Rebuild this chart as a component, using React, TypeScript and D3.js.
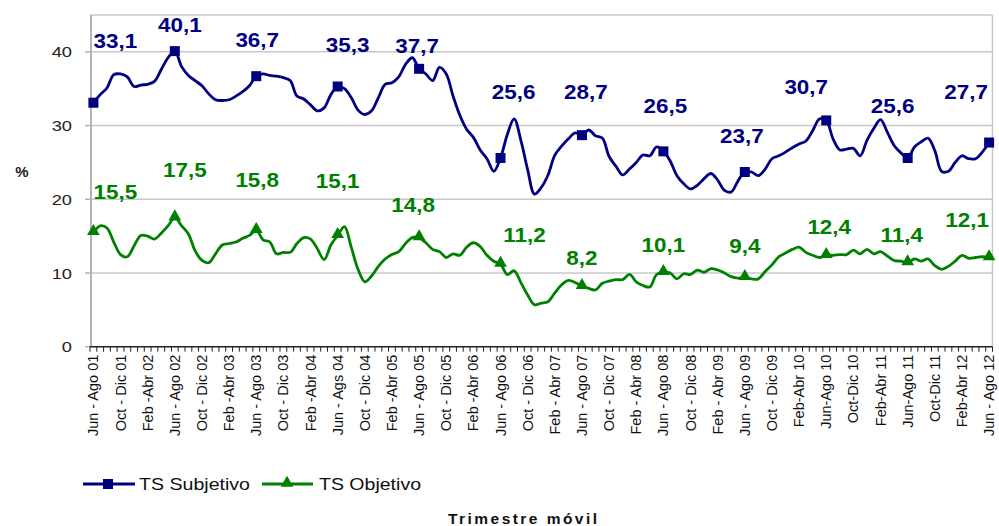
import React from 'react';
import * as d3 from 'd3';

const tickLabels = [
  'Jun - Ago 01', 'Oct - Dic 01', 'Feb -Abr 02', 'Jun - Ago 02', 'Oct - Dic 02', 'Feb -Abr 03',
  'Jun - Ago 03', 'Oct - Dic 03', 'Feb -Abr 04', 'Jun - Ags 04', 'Oct - Dic 04', 'Feb -Abr 05',
  'Jun - Ago 05', 'Oct - Dic 05', 'Feb -Abr 06', 'Jun - Ago 06', 'Oct - Dic 06', 'Feb - Abr 07',
  'Jun - Ago 07', 'Oct - Dic 07', 'Feb - Abr 08', 'Jun - Ago 08', 'Oct - Dic 08', 'Feb - Abr 09',
  'Jun - Ago 09', 'Oct - Dic 09', 'Feb-Abr 10', 'Jun-Ago 10', 'Oct-Dic 10', 'Feb-Abr 11',
  'Jun-Ago 11', 'Oct-Dic 11', 'Feb-Abr 12', 'Jun - Ago 12',
];

const subjetivo = [
  33.1, 34.2, 35.1, 36.9, 37.0, 36.6, 35.3, 35.5, 35.6, 36.0, 37.6, 39.2,
  40.1, 38.0, 36.8, 36.1, 35.4, 34.3, 33.5, 33.4, 33.5, 34.0, 34.6, 35.4,
  36.7, 37.0, 36.8, 36.7, 36.5, 36.1, 34.0, 33.6, 32.8, 32.0, 32.4, 34.2,
  35.3, 35.0, 33.8, 32.1, 31.5, 32.0, 33.8, 35.6, 35.8, 36.6, 38.3, 39.2,
  37.7, 37.0, 36.1, 37.9, 37.0, 34.0, 31.4, 29.5, 28.4, 26.7, 25.5, 23.8,
  25.6, 28.8, 30.9, 28.0, 24.0, 20.7, 21.6, 23.3, 26.0, 27.2, 28.2, 29.0,
  28.7, 29.4, 28.6, 28.3, 25.8, 24.5, 23.3, 24.1, 25.0, 26.0, 25.9, 27.1,
  26.5, 25.2, 23.2, 22.1, 21.4, 21.9, 22.8, 23.5, 22.6, 21.2, 21.0, 22.5,
  23.7, 23.7, 23.2, 24.1, 25.5, 25.9, 26.4, 27.0, 27.5, 27.9, 29.3, 30.9,
  30.7, 28.2, 26.7, 26.8, 26.9, 25.9, 28.0, 29.6, 30.8, 29.1, 27.3, 26.3,
  25.6, 27.1, 27.8, 28.3, 26.6, 23.8, 23.8, 25.0, 25.9, 25.5, 25.5, 26.4,
  27.7,
];

const objetivo = [
  15.5, 16.4, 16.1, 14.2, 12.5, 12.2, 13.7, 15.1, 15.0, 14.6, 15.4, 16.4,
  17.5, 16.4, 15.3, 13.0, 11.7, 11.4, 12.6, 13.8, 14.0, 14.2, 14.7, 15.1,
  15.8, 14.5, 14.2, 12.6, 12.8, 12.8, 14.0, 14.8, 14.6, 13.3, 11.8, 13.8,
  15.1, 16.3, 13.5, 10.5, 8.8, 9.6, 10.9, 11.9, 12.5, 12.9, 14.0, 14.8,
  14.8, 14.1, 13.2, 12.9, 12.1, 12.6, 12.4, 13.5, 14.1, 13.6, 12.4, 11.6,
  11.2, 9.8, 10.3, 8.7, 7.0, 5.7, 5.9, 6.1, 7.3, 8.4, 9.0, 8.7,
  8.2, 7.9, 7.7, 8.6, 8.9, 9.1, 9.1, 9.8, 8.8, 8.3, 8.1, 9.8,
  10.1, 10.0, 9.2, 9.9, 9.8, 10.4, 10.1, 10.6, 10.4, 10.0, 9.5, 9.3,
  9.4, 9.2, 9.2, 10.2, 11.1, 12.2, 12.7, 13.2, 13.5, 12.8, 12.4, 12.1,
  12.4, 12.4, 12.5, 12.5, 13.1, 12.6, 13.2, 12.6, 12.9, 12.3, 11.7, 11.6,
  11.4, 11.9, 11.6, 11.9, 11.0, 10.5, 10.9, 11.6, 12.4, 12.0, 12.1, 12.2,
  12.1,
];

const yTicks = [0, 10, 20, 30, 40];
const seriesNames = ['TS Subjetivo', 'TS Objetivo'];
const axisTitle = 'Trimestre móvil';
const yTitle = '%';

// label offsets (dx, dy) relative to the marker, for the yearly labelled points
const subjLabelOffsets: [number, number][] = [
  [22, -55], [5, -19], [1, -29], [10, -34], [-2, -16], [13, -59],
  [4, -36], [2, -38], [-3, -29], [-20, -26], [-15, -45], [-23, -44],
];
const objLabelOffsets: [number, number][] = [
  [22, -33], [10, -41], [1, -43], [0, -47], [-6, -26], [24, -22],
  [0, -21], [0, -20], [0, -24], [3, -21], [-6, -21], [-22, -31],
];

const BLUE = '#000080';
const GREEN = '#008000';
const FONT = '"Liberation Sans", Arial, Helvetica, sans-serif';

export default function App() {
  const W = 999, H = 526;
  const L = 90, R = 992.5, T = 15, B = 346.7;
  const n = subjetivo.length;
  const idx = d3.range(n);
  const x = d3.scalePoint<number>().domain(idx).range([L, R]).padding(0.5);
  const step = x.step();
  const y = d3.scaleLinear().domain([0, 45]).range([B, T]);

  const line = d3.line<number>()
    .x((_, i) => x(i) as number)
    .y((d) => y(d))
    .curve(d3.curveCatmullRom.alpha(0.5));

  const labelled = idx.filter((i) => i % 12 === 0);
  const tickIdx = idx.filter((i) => i % 4 === 0);
  const fmt = (v: number) => v.toFixed(1).replace('.', ',');
  const tri = d3.symbol().type(d3.symbolTriangle).size(70)();

  return (
    <svg width={W} height={H} style={{ position: 'absolute', left: 0, top: 0, display: 'block', background: '#fff' }} fontFamily={FONT}>
      {/* gridlines */}
      {[10, 20, 30, 40, 45].map((t) => (
        <line key={t} x1={L} x2={R} y1={y(t)} y2={y(t)} stroke="#c8c8c8" strokeWidth={1.5} />
      ))}
      <line x1={R} x2={R} y1={T} y2={B} stroke="#c8c8c8" strokeWidth={1.5} />
      {/* y axis */}
      <line x1={L + 1} x2={L + 1} y1={T} y2={B} stroke="#b4b4b4" strokeWidth={2} />
      {yTicks.map((t) => (
        <g key={t}>
          <line x1={L - 5} x2={L} y1={y(t)} y2={y(t)} stroke="#b4b4b4" strokeWidth={1.5} />
          <text x={72} y={y(t)} dy="0.36em" textAnchor="end" fontSize={15.5} fill="#222"
            transform={`translate(72,0) scale(1.18,1) translate(-72,0)`}>{t}</text>
        </g>
      ))}
      <text x={22} y={172} dy="0.36em" textAnchor="middle" fontSize={15} fontWeight="bold" fill="#222">{yTitle}</text>

      {/* x axis */}
      <line x1={L} x2={R} y1={B} y2={B} stroke="#222" strokeWidth={1.5} />
      {d3.range(n + 1).map((i) => {
        const xx = L + i * step;
        return <line key={i} x1={xx} x2={xx} y1={B} y2={B + 5} stroke="#222" strokeWidth={1} />;
      })}
      {tickIdx.map((i, k) => (
        <text key={i} transform={`translate(${x(i)},${B + 8}) rotate(-90)`} textAnchor="end" dy="0.35em"
          fontSize={14.5} fill="#111">{tickLabels[k]}</text>
      ))}

      {/* lines */}
      <path d={line(subjetivo) || ''} fill="none" stroke={BLUE} strokeWidth={2.8} strokeLinejoin="round" />
      <path d={line(objetivo) || ''} fill="none" stroke={GREEN} strokeWidth={2.8} strokeLinejoin="round" />

      {/* markers */}
      {labelled.map((i) => (
        <rect key={'s' + i} x={(x(i) as number) - 5} y={y(subjetivo[i]) - 5} width={10} height={10} fill={BLUE} />
      ))}
      {labelled.map((i) => (
        <path key={'o' + i} d={tri || ''} transform={`translate(${x(i)},${y(objetivo[i]) - 1})`} fill={GREEN} />
      ))}

      {/* value labels */}
      {labelled.map((i, k) => {
        const cx = (x(i) as number) + subjLabelOffsets[k][0];
        const cy = y(subjetivo[i]) + subjLabelOffsets[k][1];
        return (
          <text key={'ls' + i} x={cx} y={cy} textAnchor="middle" fontSize={21} fontWeight="bold" fill={BLUE}
            transform={`translate(${cx},0) scale(1.07,1) translate(${-cx},0)`}>{fmt(subjetivo[i])}</text>
        );
      })}
      {labelled.map((i, k) => {
        const cx = (x(i) as number) + objLabelOffsets[k][0];
        const cy = y(objetivo[i]) + objLabelOffsets[k][1];
        return (
          <text key={'lo' + i} x={cx} y={cy} textAnchor="middle" fontSize={21} fontWeight="bold" fill={GREEN}
            transform={`translate(${cx},0) scale(1.07,1) translate(${-cx},0)`}>{fmt(objetivo[i])}</text>
        );
      })}

      {/* legend */}
      <g>
        <line x1={83} x2={135} y1={484} y2={484} stroke={BLUE} strokeWidth={2.8} />
        <rect x={103} y={479} width={10} height={10} fill={BLUE} />
        <text x={139} y={484} dy="0.36em" fontSize={17} fill="#111" textLength={111} lengthAdjust="spacingAndGlyphs">{seriesNames[0]}</text>
        <line x1={262} x2={313} y1={484} y2={484} stroke={GREEN} strokeWidth={2.8} />
        <path d={tri || ''} transform={`translate(287,483)`} fill={GREEN} />
        <text x={319} y={484} dy="0.36em" fontSize={17} fill="#111" textLength={102} lengthAdjust="spacingAndGlyphs">{seriesNames[1]}</text>
      </g>
      <text x={448} y={518} dy="0.36em" fontSize={15.5} fontWeight="bold" fill="#111" textLength={149} lengthAdjust="spacing">{axisTitle}</text>
    </svg>
  );
}
